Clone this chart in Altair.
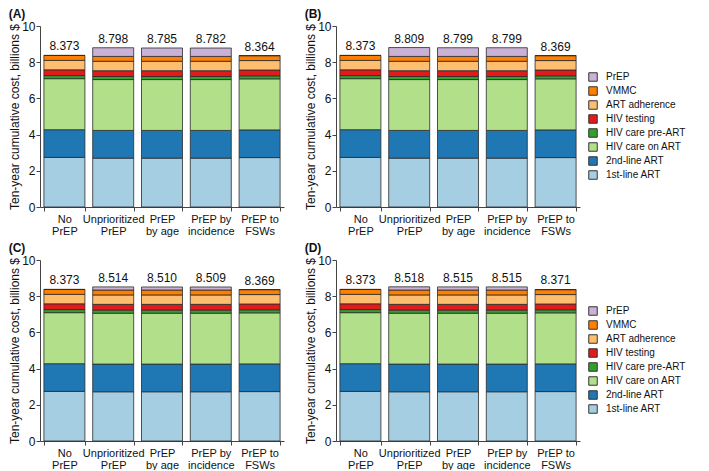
import altair as alt
import pandas as pd

scenarios = ["No|PrEP", "Unprioritized|PrEP", "PrEP|by age", "PrEP by|incidence", "PrEP to|FSWs"]

# stacking order, bottom to top
components = ["1st-line ART", "2nd-line ART", "HIV care on ART", "HIV care pre-ART",
              "HIV testing", "ART adherence", "VMMC", "PrEP"]
legend_order = ["PrEP", "VMMC", "ART adherence", "HIV testing", "HIV care pre-ART",
                "HIV care on ART", "2nd-line ART", "1st-line ART"]
legend_colors = ["#cab2d6", "#ff7f00", "#fdbf6f", "#e31a1c", "#33a02c",
                 "#b2df8a", "#1f78b4", "#a6cee3"]

# segments shared by all panels (billions $)
second_line = [1.53, 1.53, 1.53, 1.53, 1.53]
care_on_art = [2.82, 2.81, 2.81, 2.81, 2.82]
care_pre_art = [0.17, 0.17, 0.17, 0.17, 0.17]
hiv_testing = [0.32, 0.32, 0.32, 0.32, 0.32]
art_adherence = [0.52, 0.52, 0.52, 0.52, 0.52]
vmmc = [0.273, 0.27, 0.27, 0.27, 0.27]

# panel-specific values
first_line_A = [2.74, 2.70, 2.70, 2.70, 2.73]
prep_A = [0.0, 0.478, 0.465, 0.462, 0.004]
totals_A = [8.373, 8.798, 8.785, 8.782, 8.364]

first_line_B = [2.74, 2.70, 2.70, 2.70, 2.73]
prep_B = [0.0, 0.489, 0.479, 0.479, 0.009]
totals_B = [8.373, 8.809, 8.799, 8.799, 8.369]

first_line_C = [2.74, 2.72, 2.72, 2.72, 2.73]
prep_C = [0.0, 0.174, 0.170, 0.169, 0.009]
totals_C = [8.373, 8.514, 8.510, 8.509, 8.369]

first_line_D = [2.74, 2.72, 2.72, 2.72, 2.73]
prep_D = [0.0, 0.178, 0.175, 0.175, 0.011]
totals_D = [8.373, 8.518, 8.515, 8.515, 8.371]

FONT = "Liberation Sans"
W, H = 244, 181


def y_enc(stack):
    return alt.Y("value:Q", stack=stack, scale=alt.Scale(domain=[0, 10], nice=False),
                 axis=alt.Axis(values=[0, 2, 4, 6, 8, 10], grid=False,
                               title="Ten-year cumulative cost, billions $",
                               titleFontSize=12, titleFontWeight="normal", titleColor="#111",
                               labelFontSize=12, labelColor="#111", domainColor="#444",
                               tickColor="#444", tickSize=4, titlePadding=0, labelPadding=1))


def x_enc():
    return alt.X("scenario:N", sort=scenarios,
                 scale=alt.Scale(paddingInner=0.16, paddingOuter=0.08),
                 axis=alt.Axis(title=None, labelAngle=0, labelExpr="split(datum.label, '|')",
                               tickBand="extent", labelFontSize=11, labelColor="#111",
                               domainColor="#444", tickColor="#444", tickSize=4,
                               labelPadding=2, labelLineHeight=12))


def panel(label, first_line, prep, totals, show_legend):
    seg = {
        "1st-line ART": first_line, "2nd-line ART": second_line,
        "HIV care on ART": care_on_art, "HIV care pre-ART": care_pre_art,
        "HIV testing": hiv_testing, "ART adherence": art_adherence,
        "VMMC": vmmc, "PrEP": prep,
    }
    rows = []
    for i, comp in enumerate(components):
        for j, s in enumerate(scenarios):
            rows.append({"scenario": s, "component": comp, "value": seg[comp][j], "order": i})
    df = pd.DataFrame(rows)
    tot = pd.DataFrame({"scenario": scenarios, "value": totals})

    if show_legend:
        legend = alt.Legend(title=None, orient="none", legendX=252, legendY=46,
                            symbolType="square", symbolSize=72, symbolStrokeColor="#333",
                            symbolStrokeWidth=1, labelFontSize=10, rowPadding=0,
                            labelOffset=8, padding=0, labelColor="#111")
    else:
        legend = None
    bars = alt.Chart(df).mark_bar(stroke="#2b2b2b", strokeWidth=0.8).encode(
        x=x_enc(),
        y=y_enc("zero"),
        color=alt.Color("component:N", scale=alt.Scale(domain=legend_order, range=legend_colors),
                        legend=legend),
        order=alt.Order("order:Q", sort="ascending"),
    )
    text = alt.Chart(tot).mark_text(dy=-5, baseline="alphabetic", fontSize=12, color="#111").encode(
        x=x_enc(),
        y=y_enc(None),
        text=alt.Text("value:Q", format=".3f"),
    )
    return alt.layer(bars, text).properties(
        width=W, height=H,
        title=alt.TitleParams(label, anchor="start", frame="bounds", fontSize=12,
                              fontWeight="bold", offset=-1, color="#111"),
    )


A = panel("(A)", first_line_A, prep_A, totals_A, False)
B = panel("(B)", first_line_B, prep_B, totals_B, True)
C = panel("(C)", first_line_C, prep_C, totals_C, False)
D = panel("(D)", first_line_D, prep_D, totals_D, True)

top = alt.hconcat(A, B, spacing=20).resolve_scale(color="independent")
bottom = alt.hconcat(C, D, spacing=20).resolve_scale(color="independent")
chart = alt.vconcat(top, bottom, spacing=6).resolve_scale(color="independent").properties(
    padding=0
).configure(font=FONT).configure_view(stroke=None)

chart.save("out.html", embed_options={"renderer": "svg", "actions": False})
